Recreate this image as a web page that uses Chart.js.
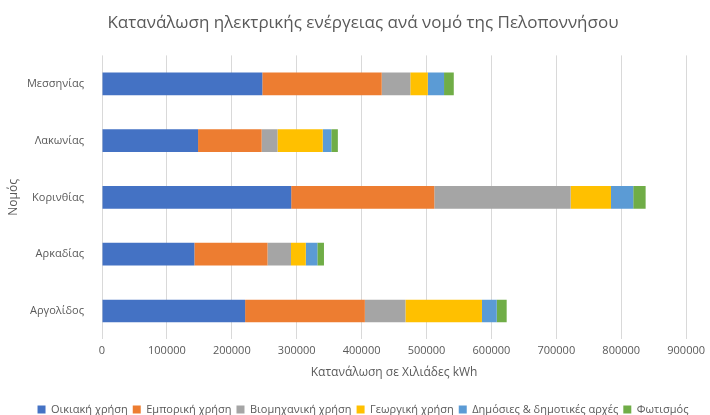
<!DOCTYPE html>
<html>
<head>
<meta charset="utf-8">
<script src="https://cdn.jsdelivr.net/npm/chart.js@4.4.0/dist/chart.umd.min.js"></script>
<style>
    html, body { margin: 0; padding: 0; background: #fff; }
    #wrap { width: 710px; height: 415px; }
</style>
</head>
<body>
<div id="wrap"><canvas id="energyChart" width="710" height="415"></canvas></div>
<script>
// Nomoi (top to bottom as in the picture)
const prefectures = ['Μεσσηνίας', 'Λακωνίας', 'Κορινθίας', 'Αρκαδίας', 'Αργολίδος'];

// consumption per use, thousand kWh
const residential = [247000, 148000, 291500, 142300, 220500];
const commercial  = [184000, 98000, 220500, 112700, 184500];
const industrial  = [44000, 24400, 210000, 36200, 62500];
const agricultural = [27000, 69700, 62200, 22800, 117900];
const publicAuth  = [25000, 13200, 34300, 17800, 22800];
const lighting    = [15000, 10100, 19100, 10200, 15300];

const seriesNames = ['Οικιακή χρήση', 'Εμπορική χρήση', 'Βιομηχανική χρήση', 'Γεωργική χρήση', 'Δημόσιες & δημοτικές αρχές', 'Φωτισμός'];
const seriesData = [residential, commercial, industrial, agricultural, publicAuth, lighting];
const seriesColors = ['#4472C4', '#ED7D31', '#A5A5A5', '#FFC000', '#5B9BD5', '#70AD47'];

const textColor = '#595959';
const fontFamily = "'Open Sans', 'Noto Sans', sans-serif";

const datasets = seriesNames.map((name, i) => ({
    label: name,
    data: seriesData[i],
    backgroundColor: seriesColors[i],
    borderWidth: 0,
    categoryPercentage: 0.8,
    barPercentage: 0.5
}));

// push the legend down to the bottom edge, like the original
const legendNudge = {
    id: 'legendNudge',
    afterLayout(chart) {
        chart.legend.top += 10;
        chart.legend.bottom += 10;
    }
};

new Chart(document.getElementById('energyChart'), {
    type: 'bar',
    data: { labels: prefectures, datasets: datasets },
    plugins: [legendNudge],
    options: {
        indexAxis: 'y',
        responsive: false,
        animation: false,
        layout: { padding: { left: 16, right: 0, top: 0, bottom: 0 } },
        plugins: {
            title: {
                display: true,
                text: 'Κατανάλωση ηλεκτρικής ενέργειας ανά νομό της Πελοποννήσου',
                color: textColor,
                font: { family: fontFamily, size: 17, weight: 'normal' },
                padding: { top: 13, bottom: 22 }
            },
            legend: {
                position: 'bottom',
                labels: {
                    color: textColor,
                    font: { family: fontFamily, size: 11 },
                    boxWidth: 8,
                    boxHeight: 8,
                    padding: 5
                }
            },
            tooltip: { enabled: false }
        },
        scales: {
            x: {
                stacked: true,
                min: 0,
                max: 900000,
                ticks: {
                    stepSize: 100000,
                    color: textColor,
                    font: { family: fontFamily, size: 11 },
                    padding: 5,
                    callback: (v) => String(v)
                },
                grid: { color: '#d9d9d9', drawTicks: false },
                border: { display: false },
                title: {
                    display: true,
                    text: 'Κατανάλωση σε Χιλιάδες kWh',
                    color: textColor,
                    font: { family: fontFamily, size: 12 },
                    padding: { top: 3, bottom: 9 }
                }
            },
            y: {
                stacked: true,
                ticks: {
                    color: textColor,
                    font: { family: fontFamily, size: 11 },
                    padding: 10
                },
                grid: { display: false },
                border: { display: false },
                title: {
                    display: true,
                    text: 'Νομός',
                    color: textColor,
                    font: { family: fontFamily, size: 12 },
                    padding: { top: -10, bottom: 0 }
                },
                afterFit: (scale) => { scale.width = 86; }
            }
        }
    }
});
</script>
</body>
</html>
